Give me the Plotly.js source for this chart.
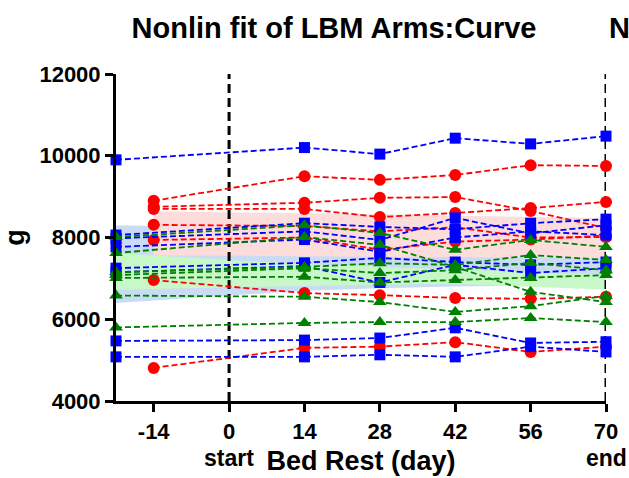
<!DOCTYPE html>
<html>
<head>
<meta charset="utf-8">
<script src="https://cdn.plot.ly/plotly-3.0.1.min.js"></script>
<style>
  html, body { margin: 0; padding: 0; background: #ffffff; }
  #chart { width: 629px; height: 478px; }
</style>
</head>
<body>
<div id="chart"></div>
<script>
// Sampling days (day 0 = start of bed rest, day 70 = end)
const daysRed = [-14, 14, 28, 42, 56, 70];
const daysBlue = [-21, 14, 28, 42, 56, 70];
const daysGreen = [-21, 14, 28, 42, 56, 70];

// Arm lean body mass per subject (g)
const redSeries = [
  [8900, 9500, 9410, 9530, 9770, 9750],
  [8750, 8850, 8970, 8990, 8650, 8230],
  [8700, 8700, 8500, 8600, 8720, 8870],
  [8310, 8280, 8150, 8250, 8000, 8010],
  [7940, 8000, 7700, 7900, 7950, 8050],
  [6960, 6640, 6590, 6520, 6500, 6550],
  [4810, 5300, 5330, 5440, 5200, 5330]
];
const blueSeries = [
  [9900, 10200, 10040, 10430, 10290, 10480],
  [8060, 8350, 8260, 8200, 8350, 8450],
  [7980, 8150, 7940, 8480, 8100, 8300],
  [7770, 7950, 7650, 8000, 8150, 8060],
  [7250, 7380, 7500, 7400, 7330, 7400],
  [7150, 7300, 6900, 7330, 7130, 7250],
  [5470, 5490, 5540, 5790, 5420, 5450],
  [5080, 5080, 5130, 5080, 5330, 5200]
];
const greenSeries = [
  [8010, 8300, 8110, 7700, 7940, 7770],
  [7620, 8010, 7820, 7280, 6670, 6420],
  [7150, 7280, 7370, 7330, 7570, 7450],
  [7080, 7250, 7130, 7200, 7380, 7200],
  [7010, 7040, 6900, 6960, 7010, 7080],
  [6580, 6550, 6420, 6180, 6320, 6570],
  [5800, 5910, 5930, 5930, 6030, 5930]
];

// Confidence bands of the nonlinear fits
const bandDays = [-21, -14, 0, 14, 28, 42, 56, 70];
const blueBandUpper = [8300, 8280, 8200, 8100, 8000, 7900, 7800, 7700];
const blueBandLower = [6400, 6460, 6580, 6700, 6760, 6800, 6820, 6830];
const greenBandUpper = [7620, 7560, 7450, 7350, 7280, 7220, 7150, 7080];
const greenBandLower = [6720, 6740, 6780, 6820, 6850, 6860, 6800, 6730];
const pinkBandDays = [-14, 0, 14, 28, 42, 56, 70];
const pinkBandUpper = [8640, 8620, 8600, 8570, 8530, 8500, 8480];
const pinkBandLower = [7560, 7560, 7540, 7520, 7520, 7510, 7500];

// Bed rest phase markers
const phaseDays = [0, 70];
const phaseLabels = ['start', 'end'];

const xTicks = [-14, 0, 14, 28, 42, 56, 70];
const yTicks = [4000, 6000, 8000, 10000, 12000];
const xRange = [-21, 70];
const yRange = [4000, 12000];

const FONT = 'Liberation Sans, Arial, Helvetica, sans-serif';

function band(days, upper, lower, color) {
  return {
    type: 'scatter', mode: 'lines',
    x: days.concat(days.slice().reverse()),
    y: upper.concat(lower.slice().reverse()),
    fill: 'toself', fillcolor: color,
    line: { width: 0, color: color },
    hoverinfo: 'skip', showlegend: false
  };
}

function subject(days, values, color, symbol, size) {
  return {
    type: 'scatter', mode: 'lines+markers',
    x: days, y: values,
    line: { color: color, width: 1.8, dash: '6px,3px' },
    marker: { color: color, symbol: symbol, size: size, line: { width: 0 } },
    cliponaxis: false, showlegend: false
  };
}

const traces = [];
traces.push(band(bandDays, blueBandUpper, blueBandLower, '#cadcf4'));
traces.push(band(bandDays, greenBandUpper, greenBandLower, '#c8f7c8'));
traces.push(band(pinkBandDays, pinkBandUpper, pinkBandLower, '#fddcdc'));

phaseDays.forEach(d => {
  traces.push({
    type: 'scatter', mode: 'lines',
    x: [d, d], y: yRange,
    line: { color: '#000000', width: 3, dash: '9px,5px' },
    cliponaxis: false, hoverinfo: 'skip', showlegend: false
  });
});

redSeries.forEach(s => traces.push(subject(daysRed, s, '#ff0000', 'circle', 12)));
blueSeries.forEach(s => traces.push(subject(daysBlue, s, '#0000ff', 'square', 11)));
greenSeries.forEach(s => traces.push(subject(daysGreen, s, '#008000', 'triangle-up', 12)));

const annotations = phaseDays.map((d, i) => ({
  x: d, xref: 'x', y: -0.175, yref: 'paper',
  text: phaseLabels[i], showarrow: false,
  xanchor: 'center', yanchor: 'middle',
  font: { family: FONT, size: 23, weight: 'bold', color: '#000' }
}));
// start of the neighbouring panel's title, cut off at the right edge
annotations.push({
  x: (607 - 116) / 490, xref: 'paper', y: (401 - 28) / 327, yref: 'paper',
  text: 'N', showarrow: false, xanchor: 'left', yanchor: 'middle',
  font: { family: FONT, size: 29, weight: 'bold', color: '#000' }
});

const layout = {
  width: 629, height: 478,
  margin: { l: 116, r: 23, t: 74, b: 77 },
  paper_bgcolor: '#ffffff', plot_bgcolor: '#ffffff',
  showlegend: false,
  title: {
    text: 'Nonlin fit of LBM Arms:Curve',
    font: { family: FONT, size: 29, weight: 'bold', color: '#000' },
    x: 334 / 629, xref: 'container', xanchor: 'center',
    y: 1 - 28 / 478, yref: 'container', yanchor: 'middle'
  },
  xaxis: {
    range: xRange, tickvals: xTicks, ticktext: xTicks.map(String),
    showgrid: false, zeroline: false,
    showline: true, linecolor: '#000', linewidth: 3,
    ticks: 'outside', ticklen: 8, tickwidth: 3, tickcolor: '#000',
    ticklabelstandoff: 1,
    tickfont: { family: FONT, size: 22, weight: 'bold', color: '#000' },
    title: { text: 'Bed Rest (day)', standoff: 8,
      font: { family: FONT, size: 27, weight: 'bold', color: '#000' } }
  },
  yaxis: {
    range: yRange, tickvals: yTicks, ticktext: yTicks.map(String),
    showgrid: false, zeroline: false,
    showline: true, linecolor: '#000', linewidth: 3,
    ticks: 'outside', ticklen: 8, tickwidth: 3, tickcolor: '#000',
    tickfont: { family: FONT, size: 22, weight: 'bold', color: '#000' },
    title: { text: 'g', standoff: 16,
      font: { family: FONT, size: 27, weight: 'bold', color: '#000' } }
  },
  annotations: annotations
};

Plotly.newPlot('chart', traces, layout, { displayModeBar: false, staticPlot: true });
</script>
</body>
</html>
